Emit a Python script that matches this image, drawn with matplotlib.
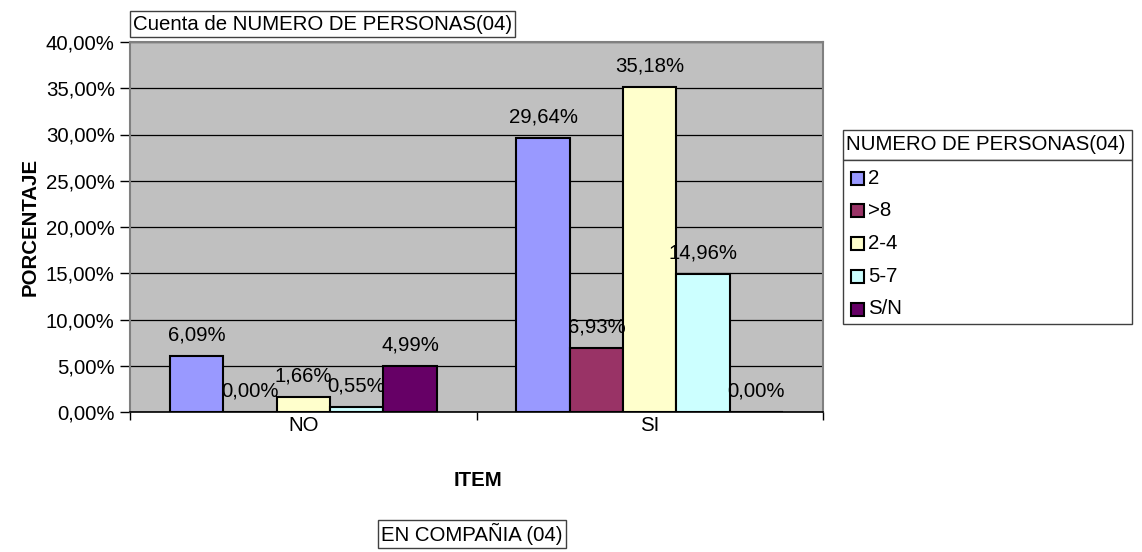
import numpy as np
import matplotlib
matplotlib.use('Agg')
import matplotlib.pyplot as plt
from matplotlib.patches import Rectangle

categories = ['NO', 'SI']
series = ['2', '>8', '2-4', '5-7', 'S/N']
values = {
    '2': [6.09, 29.64],
    '>8': [0.00, 6.93],
    '2-4': [1.66, 35.18],
    '5-7': [0.55, 14.96],
    'S/N': [4.99, 0.00],
}
colors = ['#9999FF', '#993366', '#FFFFCC', '#CCFFFF', '#660066']
yticks = [0, 5, 10, 15, 20, 25, 30, 35, 40]

W, H = 1142, 552
FS = 14.7
plt.rcParams['font.family'] = ['Liberation Sans', 'DejaVu Sans']
plt.rcParams['font.size'] = FS


def pct(v):
    return ('%.2f%%' % v).replace('.', ',')


def fx(px):
    return px / W


def fy(py):
    return 1 - py / H


fig = plt.figure(figsize=(W / 100, H / 100), dpi=100)
ax = fig.add_axes([fx(130), fy(412), fx(823 - 130), (412 - 42) / H])
ax.set_facecolor('#C0C0C0')

x = np.arange(len(categories))
width = 0.154
n = len(series)
for i, s in enumerate(series):
    offs = (i - (n - 1) / 2) * width
    bars = ax.bar(x + offs, values[s], width, color=colors[i],
                  edgecolor='black', linewidth=1.5, zorder=3)
    for b, v in zip(bars, values[s]):
        ax.annotate(pct(v), (b.get_x() + b.get_width() / 2, v),
                    xytext=(0, 11), textcoords='offset points',
                    ha='center', va='baseline', fontsize=FS, zorder=4)

ax.set_xlim(-0.5, 1.5)
ax.set_ylim(0, 40)
ax.set_yticks(yticks)
ax.set_yticklabels([pct(t) for t in yticks])
ax.yaxis.grid(True, color='black', linewidth=0.9, zorder=1)
ax.set_axisbelow(True)
ax.set_xticks([-0.5, 0.5, 1.5])
ax.set_xticklabels([])
ax.set_xticks(x, minor=True)
ax.set_xticklabels(categories, minor=True)
ax.tick_params(axis='x', which='minor', length=0, pad=3)
ax.tick_params(axis='x', which='major', length=6, width=1, direction='out')
ax.tick_params(axis='y', length=7, width=1, direction='out', pad=4)

for sp in ['left', 'right', 'top']:
    ax.spines[sp].set_color('#808080')
    ax.spines[sp].set_linewidth(1.5)
ax.spines['bottom'].set_color('black')
ax.spines['bottom'].set_linewidth(1.2)

fig.text(fx(30), fy(227), 'PORCENTAJE', rotation=90, ha='center', va='center',
         fontsize=FS, fontweight='bold')
fig.text(fx(478), fy(480), 'ITEM', ha='center', va='center',
         fontsize=FS, fontweight='bold')

# pivot field buttons
fig.text(fx(133), fy(24), 'Cuenta de NUMERO DE PERSONAS(04)', ha='left', va='center',
         fontsize=FS, bbox=dict(boxstyle='square,pad=0.15', fc='white', ec='#404040', lw=1))
fig.text(fx(381), fy(534), 'EN COMPAÑIA (04)', ha='left', va='center',
         fontsize=FS, bbox=dict(boxstyle='square,pad=0.15', fc='white', ec='#404040', lw=1))

# legend
lx0, lx1 = 843, 1132
fig.patches.append(Rectangle((fx(lx0), fy(160)), fx(lx1 - lx0), (160 - 130) / H,
                             transform=fig.transFigure, fc='white', ec='#404040', lw=1))
fig.patches.append(Rectangle((fx(lx0), fy(324)), fx(lx1 - lx0), (324 - 160) / H,
                             transform=fig.transFigure, fc='white', ec='#404040', lw=1))
fig.text(fx(lx0 + 3), fy(145), 'NUMERO DE PERSONAS(04)', ha='left', va='center', fontsize=FS)
for i, s in enumerate(series):
    yc = 178 + i * 32.75
    fig.patches.append(Rectangle((fx(851), fy(yc + 6.5)), fx(13), 13 / H,
                                 transform=fig.transFigure, fc=colors[i], ec='black', lw=1.5))
    fig.text(fx(868), fy(yc), s, ha='left', va='center', fontsize=FS)

fig.savefig('out.png', dpi=100)
